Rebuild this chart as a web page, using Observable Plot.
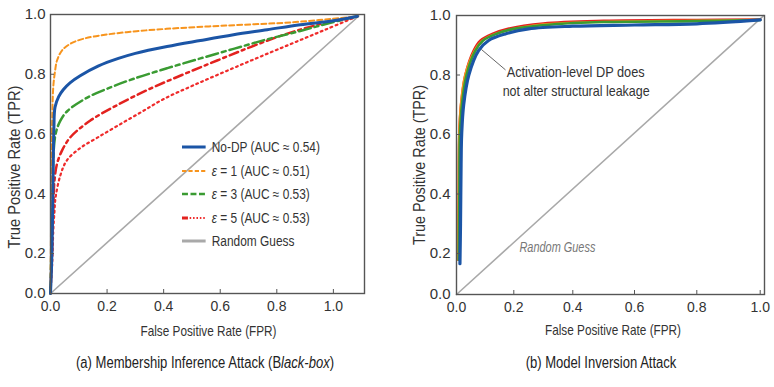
<!DOCTYPE html>
<html><head><meta charset="utf-8">
<script src="https://cdn.jsdelivr.net/npm/d3@7"></script>
<script src="https://cdn.jsdelivr.net/npm/@observablehq/plot@0.6"></script>
<style>
body{margin:0;background:#fff;}
#wrap{position:relative;width:774px;height:387px;overflow:hidden;font-family:"Liberation Sans",Arial,sans-serif;color:#333;}
.abs{position:absolute;white-space:nowrap;}
.cap{font-size:16px;color:#222;transform:translate(-50%,-50%) scaleX(.815);}
.leg{font-size:14px;display:flex;align-items:center;height:20px;transform:translateY(-50%) scaleX(.85);transform-origin:0 50%;}
.leg svg{margin-right:7px;}
</style></head><body><div id="wrap"></div>
<script>
const FONT = '"Liberation Sans",Arial,sans-serif';

// ---- tick values ----
const xTicks = [0, 0.2, 0.4, 0.6, 0.8, 1.0];
const yTicks = [0, 0.2, 0.4, 0.6, 0.8, 1.0];

// ---- (a) Membership inference: ROC curves (FPR, TPR) ----
const miaNoDP_fpr = [0, 0.005, 0.009, 0.012, 0.016, 0.029, 0.045, 0.07, 0.105, 0.17, 0.24, 0.3, 0.412, 0.53, 0.647, 0.766, 0.883, 1.0, 1.085];
const miaNoDP_tpr = [0, 0.2, 0.45, 0.62, 0.69, 0.725, 0.748, 0.772, 0.795, 0.828, 0.853, 0.87, 0.893, 0.913, 0.932, 0.949, 0.966, 0.979, 0.994];
const miaEps1_fpr = [0, 0.003, 0.006, 0.01, 0.016, 0.023, 0.041, 0.07, 0.117, 0.199, 0.304, 0.41, 0.62, 0.854, 1.085];
const miaEps1_tpr = [0, 0.4, 0.65, 0.76, 0.81, 0.846, 0.88, 0.902, 0.919, 0.933, 0.944, 0.952, 0.963, 0.974, 0.994];
const miaEps3_fpr = [0, 0.005, 0.009, 0.018, 0.035, 0.06, 0.13, 0.212, 0.294, 0.412, 0.53, 0.647, 0.766, 0.883, 0.98, 1.085];
const miaEps3_tpr = [0, 0.3, 0.5, 0.6, 0.645, 0.677, 0.722, 0.756, 0.785, 0.82, 0.853, 0.885, 0.917, 0.945, 0.97, 0.994];
const miaEps5a_fpr = [0, 0.005, 0.01, 0.014, 0.023, 0.041, 0.071, 0.141, 0.236, 0.353, 0.471, 0.589, 0.707, 0.824, 0.942, 1.085];
const miaEps5a_tpr = [0, 0.2, 0.35, 0.444, 0.5, 0.545, 0.59, 0.645, 0.697, 0.752, 0.8, 0.846, 0.891, 0.932, 0.965, 0.994];
const miaEps5b_fpr = [0, 0.006, 0.01, 0.014, 0.018, 0.035, 0.058, 0.105, 0.164, 0.236, 0.32, 0.4, 0.503, 0.62, 0.737, 0.854, 0.971, 1.085];
const miaEps5b_tpr = [0, 0.15, 0.28, 0.34, 0.388, 0.462, 0.512, 0.553, 0.587, 0.627, 0.673, 0.717, 0.762, 0.81, 0.857, 0.903, 0.949, 0.994];
const miaRandom_fpr = [0, 1.09];
const miaRandom_tpr = [0, 0.995];

// ---- (b) Model inversion: ROC curves ----
const invNoDP_fpr = [0.012, 0.014, 0.016, 0.018, 0.025, 0.043, 0.077, 0.112, 0.17, 0.25, 0.4, 0.6, 0.8, 1.0];
const invNoDP_tpr = [0.15, 0.3, 0.5, 0.6, 0.7, 0.8, 0.882, 0.916, 0.938, 0.955, 0.964, 0.968, 0.972, 0.985];
const invEps1_fpr = [0.005, 0.007, 0.009, 0.015, 0.03, 0.062, 0.088, 0.13, 0.19, 0.3, 0.5, 0.8, 1.0];
const invEps1_tpr = [0.17, 0.4, 0.6, 0.7, 0.8, 0.88, 0.914, 0.936, 0.953, 0.97, 0.979, 0.983, 0.986];
const invEps3_fpr = [0.008, 0.01, 0.012, 0.019, 0.035, 0.066, 0.093, 0.138, 0.2, 0.33, 0.5, 0.8, 1.0];
const invEps3_tpr = [0.17, 0.4, 0.6, 0.7, 0.8, 0.882, 0.916, 0.938, 0.955, 0.97, 0.978, 0.981, 0.985];
const invEps5_fpr = [0.006, 0.008, 0.01, 0.016, 0.031, 0.06, 0.084, 0.125, 0.18, 0.3, 0.5, 0.8, 1.0];
const invEps5_tpr = [0.17, 0.4, 0.6, 0.7, 0.8, 0.882, 0.916, 0.938, 0.955, 0.973, 0.982, 0.985, 0.986];
const invRandom_fpr = [0, 1.005];
const invRandom_tpr = [0, 1.0];

// ---- texts ----
const legendLabels = ["No-DP (AUC ≈ 0.54)", "<i>ε</i> = 1 (AUC ≈ 0.51)", "<i>ε</i> = 3 (AUC ≈ 0.53)", "<i>ε</i> = 5 (AUC ≈ 0.53)", "Random Guess"];
const annotLines = ["Activation-level DP does", "not alter structural leakage"];
const annotX = [0.175, 0.161];
const annotY = [0.809, 0.746];
const leaderX = [0.088, 0.17];
const leaderY = [0.885, 0.818];
const randomLabel = ["Random Guess"];
const randomLabelX = [0.219];
const randomLabelY = [0.221];

const C = {blue: "#1b55a6", orange: "#f7941d", green: "#3a9b32", red: "#e3221f", red2: "#ef2b2b", gray: "#a9a9a9"};

// the source axes are not evenly spaced: piecewise-linear warps of the value axes
const warpYLeft = d3.scaleLinear().domain([0, 0.2, 1]).range([0, 40 / 279, 1]);
const warpYRight = d3.scaleLinear().domain([0, 0.2, 1]).range([0, 41 / 279, 1]);
const warpXRight = d3.scaleLinear().domain([0, 0.2, 0.4, 0.6, 0.8, 1.0, 1.006]).range([0, 57.3 / 308, 116.3 / 308, 178 / 308, 240.3 / 308, 303.7 / 308, 1]);

const pts = (xs, ys) => xs.map((x, i) => ({x, y: ys[i]}));

function axes(yTickPad) {
  return [
    Plot.frame({stroke: "#555", strokeWidth: 1.4}),
    Plot.axisX(xTicks, {tickSize: -4, tickPadding: 12, tickFormat: d3.format(".1f"), label: null, stroke: "#555", fontSize: 14, fill: "#333"}),
    Plot.axisY(yTicks, {tickSize: -4, tickPadding: yTickPad, tickFormat: d3.format(".1f"), label: null, stroke: "#555", fontSize: 15, fill: "#333"})
  ];
}

const left = Plot.plot({
  width: 380, height: 345,
  marginLeft: 50, marginRight: 16, marginTop: 14, marginBottom: 52,
  style: {fontFamily: FONT, background: "transparent"},
  x: {domain: [0, 1.11]},
  y: {domain: [0, 1], transform: warpYLeft},
  marks: [
    Plot.line(pts(miaRandom_fpr, miaRandom_tpr), {x: "x", y: "y", stroke: C.gray, strokeWidth: 1.6}),
    Plot.line(pts(miaEps5b_fpr, miaEps5b_tpr), {x: "x", y: "y", stroke: C.red2, strokeWidth: 2.2, strokeDasharray: "1.8,3.6", curve: "catmull-rom"}),
    Plot.line(pts(miaEps5a_fpr, miaEps5a_tpr), {x: "x", y: "y", stroke: C.red, strokeWidth: 2.5, strokeDasharray: "9,4,3,4", curve: "catmull-rom"}),
    Plot.line(pts(miaEps3_fpr, miaEps3_tpr), {x: "x", y: "y", stroke: C.green, strokeWidth: 2.5, strokeDasharray: "12,4,4,4", curve: "catmull-rom"}),
    Plot.line(pts(miaEps1_fpr, miaEps1_tpr), {x: "x", y: "y", stroke: C.orange, strokeWidth: 2, strokeDasharray: "5,3", curve: "catmull-rom"}),
    Plot.line(pts(miaNoDP_fpr, miaNoDP_tpr), {x: "x", y: "y", stroke: C.blue, strokeWidth: 3, curve: "catmull-rom"}),
    ...axes(9)
  ]
});

const right = Plot.plot({
  width: 387, height: 345,
  marginLeft: 69, marginRight: 10, marginTop: 15, marginBottom: 51,
  style: {fontFamily: FONT, background: "transparent"},
  x: {domain: [0, 1], transform: warpXRight},
  y: {domain: [0, 1], transform: warpYRight},
  marks: [
    Plot.line(pts(invRandom_fpr, invRandom_tpr), {x: "x", y: "y", stroke: C.gray, strokeWidth: 1.6}),
    Plot.line(pts(invEps5_fpr, invEps5_tpr), {x: "x", y: "y", stroke: C.red, strokeWidth: 2.6, curve: "catmull-rom"}),
    Plot.line(pts(invEps1_fpr, invEps1_tpr), {x: "x", y: "y", stroke: C.orange, strokeWidth: 2.2, curve: "catmull-rom"}),
    Plot.line(pts(invEps3_fpr, invEps3_tpr), {x: "x", y: "y", stroke: C.green, strokeWidth: 2.6, curve: "catmull-rom"}),
    Plot.line(pts(invNoDP_fpr, invNoDP_tpr), {x: "x", y: "y", stroke: C.blue, strokeWidth: 3.2, curve: "catmull-rom"}),
    Plot.line(pts(leaderX, leaderY), {x: "x", y: "y", stroke: "#666", strokeWidth: 1}),
    Plot.text(annotLines, {x: (d, i) => annotX[i], y: (d, i) => annotY[i], text: d => d, textAnchor: "start", fontSize: 15, fill: "#333", className: "annot"}),
    Plot.text(randomLabel, {x: (d, i) => randomLabelX[i], y: (d, i) => randomLabelY[i], text: d => d, textAnchor: "start", fontSize: 14, fontStyle: "italic", fill: "#777", className: "rglabel"}),
    ...axes(10)
  ]
});

// the source uses a condensed face: fit in-plot annotation texts to their measured widths
const annotWidths = [138, 147];
right.querySelectorAll(".annot text").forEach((t, i) => {
  t.setAttribute("textLength", annotWidths[i]); t.setAttribute("lengthAdjust", "spacingAndGlyphs");
});
right.querySelectorAll(".rglabel text").forEach(t => {
  t.setAttribute("textLength", 76); t.setAttribute("lengthAdjust", "spacingAndGlyphs");
});

const wrap = document.getElementById("wrap");
function place(el, l, t) { el.style.position = "absolute"; el.style.left = l + "px"; el.style.top = t + "px"; wrap.appendChild(el); }
place(left, 0, 0);
place(right, 387, 0);

// axis titles as SVG text fitted to the source widths
const NS = "http://www.w3.org/2000/svg";
function svgLabel(txt, len, size, cx, cy, rotate) {
  const s = document.createElementNS(NS, "svg");
  s.setAttribute("width", 774); s.setAttribute("height", 387);
  s.style.position = "absolute"; s.style.left = "0px"; s.style.top = "0px"; s.style.overflow = "visible";
  s.style.pointerEvents = "none";
  const t = document.createElementNS(NS, "text");
  t.setAttribute("text-anchor", "middle");
  t.setAttribute("dominant-baseline", "central");
  t.setAttribute("font-family", FONT);
  t.setAttribute("font-size", size);
  t.setAttribute("fill", "#333");
  t.setAttribute("textLength", len); t.setAttribute("lengthAdjust", "spacingAndGlyphs");
  t.setAttribute("transform", `translate(${cx},${cy})` + (rotate ? " rotate(-90)" : ""));
  t.textContent = txt;
  s.appendChild(t);
  wrap.appendChild(s);
}
svgLabel("True Positive Rate (TPR)", 163, 17, 14, 167, true);
svgLabel("True Positive Rate (TPR)", 160, 17, 419, 165, true);
svgLabel("False Positive Rate (FPR)", 136, 14.5, 208.5, 331);
svgLabel("False Positive Rate (FPR)", 136, 14.5, 613, 330);

function addText(html, cls, l, t) {
  const d = document.createElement("div");
  d.className = "abs " + cls; d.innerHTML = html;
  d.style.left = l + "px"; d.style.top = t + "px";
  wrap.appendChild(d);
  return d;
}
addText("(a) Membership Inference Attack (B<i>lack-box</i>)", "cap", 204.5, 363);
addText("(b) Model Inversion Attack", "cap", 601, 363);

// legend
const legendSwatches = [
  `<line x1="0" y1="5" x2="28" y2="5" stroke="${C.blue}" stroke-width="3"/>`,
  `<line x1="0" y1="5" x2="28" y2="5" stroke="${C.orange}" stroke-width="2" stroke-dasharray="5,2.5"/>`,
  `<line x1="0" y1="5" x2="28" y2="5" stroke="${C.green}" stroke-width="2.5" stroke-dasharray="7,3"/>`,
  `<line x1="0" y1="5" x2="7" y2="5" stroke="${C.red}" stroke-width="3"/><line x1="9" y1="5" x2="28" y2="5" stroke="${C.red2}" stroke-width="2" stroke-dasharray="1.8,2.2"/>`,
  `<line x1="0" y1="5" x2="28" y2="5" stroke="${C.gray}" stroke-width="3"/>`
];
const legendRowY = [147, 170.5, 194, 217.5, 241];
legendLabels.forEach((lab, i) => {
  addText(`<svg width="28" height="10">${legendSwatches[i]}</svg><span>${lab}</span>`, "leg", 182, legendRowY[i]);
});
</script></body></html>
